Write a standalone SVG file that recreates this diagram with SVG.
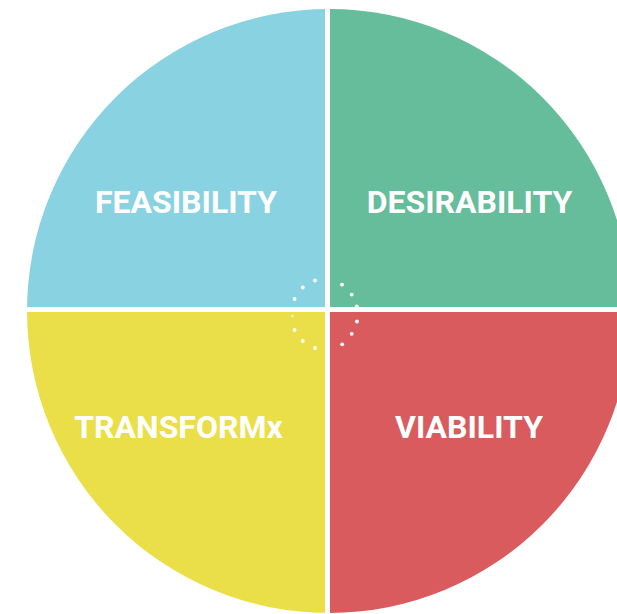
<svg xmlns="http://www.w3.org/2000/svg" width="617" height="614" viewBox="0 0 617 614">
<style>
.lbl{font-family:Roboto,"Liberation Sans",Arial,sans-serif;font-weight:700;font-size:32px;fill:#ffffff;text-anchor:middle}
.dot{fill:#ffffff}
</style>
<defs>
<clipPath id="disc"><circle cx="329" cy="311" r="302"/></clipPath>
</defs>
<rect width="617" height="614" fill="#ffffff"/>
<g clip-path="url(#disc)">
<g id="feasibility">
<rect x="0" y="0" width="327.5" height="309.5" fill="#89D2E1"/>
<text class="lbl" x="186" y="212.5">FEASIBILITY</text>
</g>
<g id="desirability">
<rect x="327.5" y="0" width="320" height="309.5" fill="#66BD9B"/>
<text class="lbl" x="469.5" y="212.5">DESIRABILITY</text>
</g>
<g id="transformx">
<rect x="0" y="309.5" width="327.5" height="320" fill="#EADF48"/>
<text class="lbl" x="178.5" y="437.5">TRANSFORMx</text>
</g>
<g id="viability">
<rect x="327.5" y="309.5" width="320" height="320" fill="#D95B5E"/>
<text class="lbl" x="469" y="437.5">VIABILITY</text>
</g>
<g id="dividers" stroke="#ffffff" stroke-width="5">
<line x1="327.5" y1="0" x2="327.5" y2="614"/>
<line x1="0" y1="309.5" x2="617" y2="309.5"/>
</g>
</g>
<g id="dots">
<circle class="dot" cx="315" cy="280.5" r="1.9"/>
<circle class="dot" cx="302.8" cy="287.5" r="1.9"/>
<circle class="dot" cx="294.6" cy="299" r="1.9"/>
<circle class="dot" cx="292.5" cy="316" r="1.6" opacity="0.5"/>
<circle class="dot" cx="294.6" cy="330" r="1.9"/>
<circle class="dot" cx="302.8" cy="341" r="1.9"/>
<circle class="dot" cx="315" cy="348" r="1.9"/>
<circle class="dot" cx="342" cy="284.7" r="1.9"/>
<circle class="dot" cx="351.7" cy="294.6" r="1.9"/>
<circle class="dot" cx="356.8" cy="306.5" r="1.9"/>
<circle class="dot" cx="357" cy="321.5" r="1.9"/>
<circle class="dot" cx="351.7" cy="333.8" r="1.9"/>
<circle class="dot" cx="342.2" cy="344.3" r="1.9"/>
</g>
</svg>
